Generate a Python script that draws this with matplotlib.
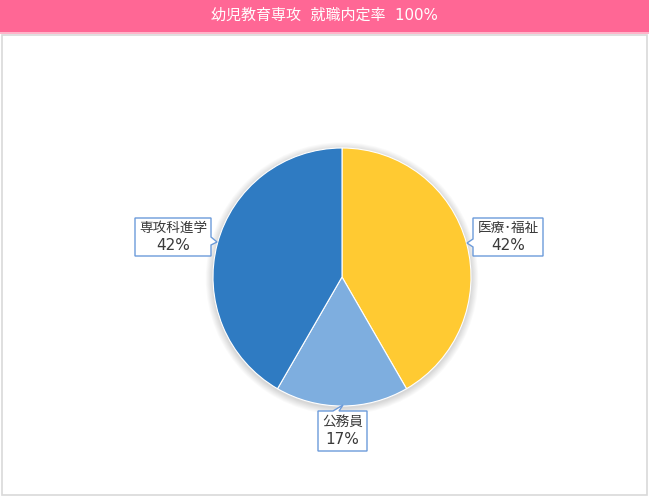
import matplotlib
matplotlib.use("Agg")
import matplotlib.pyplot as plt
from matplotlib.patches import Rectangle, Polygon, Circle

FAM = ['DejaVu Sans', 'Noto Sans CJK JP']
plt.rcParams['font.family'] = FAM

# ---- data ----
title = "幼児教育専攻  就職内定率  100%"
categories = ["医療･福祉", "公務員", "専攻科進学"]
values = [5, 2, 5]
colors = ["#FFCA32", "#7EAEDF", "#2F7BC2"]

# ---- layout (pixel coords, image y downward) ----
W, H = 649, 496
cx, cy, R = 342, 277, 129
# label boxes: (left, top, right, bottom), pointer base pts & tip
boxes = [
    dict(box=(473, 218, 543, 256), base=[(473, 239), (473, 247)], tip=(467, 243)),
    dict(box=(318, 411, 367, 451), base=[(333, 411), (339, 411)], tip=(343, 405)),
    dict(box=(135, 218, 211, 256), base=[(211, 237), (211, 245)], tip=(217, 242)),
]

fig = plt.figure(figsize=(W / 100, H / 100), dpi=100)
ax = fig.add_axes([0, 0, 1, 1])


def Y(y):
    return H - y


# title bar
ax.add_patch(Rectangle((0, Y(32)), W, 32, facecolor="#FF6795", edgecolor="none", zorder=1))
ax.add_patch(Rectangle((0, Y(34)), W, 2, facecolor="#FFB3C9", edgecolor="none", zorder=1))
ax.text(324, Y(15), title, color="white", fontsize=10.8, ha="center", va="center",
        family=FAM, zorder=2)

# frame
ax.add_patch(Rectangle((1.5, Y(494.5)), 645.5, 459.5, facecolor="white", edgecolor="#D9D9D9",
                       linewidth=1.2, zorder=1))

# soft shadow
for i in range(8, 0, -1):
    ax.add_patch(Circle((cx, Y(cy) - 1.5), R + i * 0.9, facecolor="#000000", alpha=0.018,
                        edgecolor="none", zorder=2))

wedges, _ = ax.pie(values, colors=colors, startangle=90, counterclock=False,
                   center=(cx, Y(cy)), radius=R, frame=True,
                   wedgeprops=dict(edgecolor="white", linewidth=0.8))
for w in wedges:
    w.set_zorder(3)
ax.set_xlim(0, W)
ax.set_ylim(0, H)
ax.set_aspect('equal')
ax.axis('off')

total = sum(values)
border = "#6C9BDA"
for cat, v, b in zip(categories, values, boxes):
    l, t, r, btm = b["box"]
    (bx1, by1), (bx2, by2) = b["base"]
    tx, ty = b["tip"]
    if bx1 == l and bx2 == l:  # left side pointer
        pts = [(l, t), (r, t), (r, btm), (l, btm), (l, by2), (tx, ty), (l, by1)]
    elif bx1 == r and bx2 == r:  # right side pointer
        pts = [(l, t), (r, t), (r, by1), (tx, ty), (r, by2), (r, btm), (l, btm)]
    else:  # top pointer
        pts = [(l, t), (bx1, t), (tx, ty), (bx2, t), (r, t), (r, btm), (l, btm)]
    pts = [(x, Y(y)) for x, y in pts]
    ax.add_patch(Polygon(pts, closed=True, facecolor="white", edgecolor=border,
                         linewidth=1.0, zorder=4))
    pct = round(v / total * 100)
    mx, my = (l + r) / 2, (t + btm) / 2
    ax.text(mx, Y(my - 9), cat, ha="center", va="center", fontsize=9.8,
            color="#3A3A3A", family=FAM, zorder=5)
    ax.text(mx, Y(my + 8), f"{pct}%", ha="center", va="center", fontsize=11,
            color="#3A3A3A", family=FAM, zorder=5)

fig.savefig("out.png", dpi=100)
